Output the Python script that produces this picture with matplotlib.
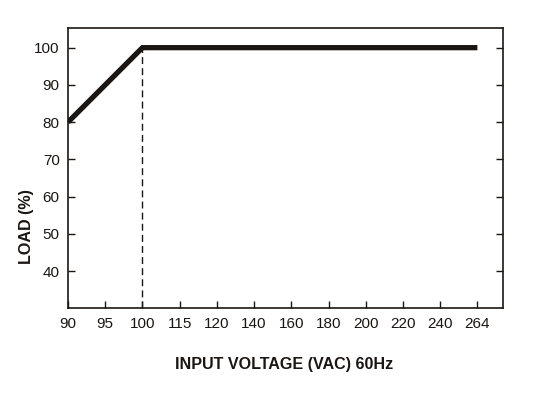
import matplotlib
matplotlib.use("Agg")
import matplotlib.pyplot as plt

plt.rcParams["font.family"] = ["Liberation Sans", "DejaVu Sans"]

voltage_labels = ["90", "95", "100", "115", "120", "140", "160", "180", "200", "220", "240", "264"]
curve_idx = [0, 2, 11]
curve_load = [80, 100, 100]
knee_idx = 2
knee_load = 100
y_ticks = [40, 50, 60, 70, 80, 90, 100]

W, H = 535, 394
ink = "#1a1614"

fig = plt.figure(figsize=(W / 100, H / 100), dpi=100)
ax = fig.add_axes([68 / W, 1 - 308.3 / H, (502.7 - 68) / W, (308.3 - 28.3) / H])

ax.plot(curve_idx, curve_load, color=ink, linewidth=3.8, solid_capstyle="butt",
        solid_joinstyle="miter", zorder=3)
ax.plot([knee_idx, knee_idx], [30, knee_load], color=ink, linewidth=1.0,
        linestyle=(0, (5, 3)), zorder=2)

ax.set_xlim(0, 11.68)
ax.set_ylim(30, 105.2)
ax.set_xticks(range(len(voltage_labels)))
ax.set_xticklabels(voltage_labels)
ax.set_yticks(y_ticks)
ax.tick_params(axis="both", direction="in", length=5, width=1, labelsize=11,
               colors=ink, pad=6)
ax.tick_params(axis="y", right=True)
for s in ax.spines.values():
    s.set_linewidth(1.2)
    s.set_color(ink)

fig.text(284.5 / W, 1 - 365 / H, "INPUT VOLTAGE (VAC) 60Hz", fontsize=11.6,
         fontweight="bold", color=ink, ha="center", va="center")
fig.text(26.5 / W, 1 - 226.5 / H, "LOAD (%)", fontsize=11.6, fontweight="bold",
         color=ink, ha="center", va="center", rotation=90)

fig.savefig("out.png", dpi=100)
